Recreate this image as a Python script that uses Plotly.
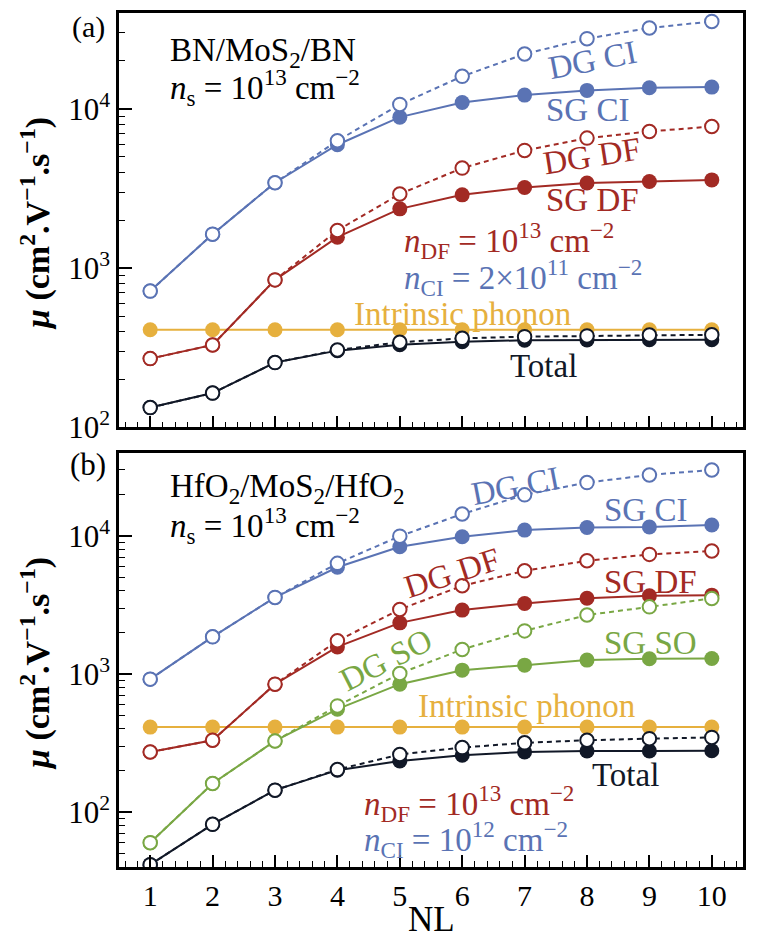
import plotly.graph_objects as go

# ---------------- data ----------------
NL = [1, 2, 3, 4, 5, 6, 7, 8, 9, 10]

# panel (a): BN/MoS2/BN
a_dg_ci = [717, 1633, 3435, 6300, 10660, 16000, 22100, 27600, 32200, 35400]
a_sg_ci = [717, 1633, 3435, 5950, 8870, 10960, 12200, 13060, 13580, 13700]
a_dg_df = [270, 329, 843, 1722, 2920, 4245, 5480, 6550, 7210, 7750]
a_sg_df = [270, 329, 843, 1563, 2355, 2884, 3206, 3420, 3500, 3580]
a_phonon = [410, 410, 410, 410, 410, 410, 410, 410, 410, 410]
a_sg_tot = [133, 164, 255, 303, 330, 345, 352, 354, 355, 355]
a_dg_tot = [133, 164, 255, 306, 342, 362, 371, 375, 380, 381]

# panel (b): HfO2/MoS2/HfO2
b_dg_ci = [917, 1857, 3580, 6320, 9950, 14400, 19800, 24300, 27600, 30000]
b_sg_ci = [917, 1857, 3580, 5920, 8340, 9840, 11000, 11500, 11600, 11980]
b_dg_df = [272, 331, 843, 1738, 2930, 4350, 5580, 6600, 7340, 7760]
b_sg_df = [272, 331, 843, 1570, 2344, 2900, 3240, 3530, 3680, 3720]
b_dg_so = [60, 161, 327, 587, 1008, 1504, 2050, 2670, 3060, 3520]
b_sg_so = [60, 161, 327, 556, 843, 1065, 1158, 1260, 1287, 1294]
b_phonon = [412, 412, 412, 412, 412, 412, 412, 412, 412, 412]
b_sg_tot = [41.6, 81.5, 144, 201, 234, 258, 272, 277, 277, 278]
b_dg_tot = [41.6, 81.5, 144, 203, 261, 293, 317, 331, 340, 347]

y_major = [100, 1000, 10000]
y_major_text = ["10<sup>2</sup>", "10<sup>3</sup>", "10<sup>4</sup>"]
y_minor = [m * d for d in (10, 100, 1000, 10000) for m in range(2, 10)]
x_minor = [i + f for i in range(0, 11) for f in (0.2, 0.4, 0.6, 0.8)]

BLUE = "#5a73b4"
RED = "#a22a24"
YEL = "#e6b03e"
GRN = "#79a744"
BLK = "#111827"
FONT = "Liberation Serif"

fig = go.Figure()


def sg(x, y, color, xa, ya):
    fig.add_trace(go.Scatter(x=x, y=y, mode="lines+markers", xaxis=xa, yaxis=ya,
                             line=dict(color=color, width=2),
                             marker=dict(symbol="circle", size=15, color=color,
                                         line=dict(width=0)),
                             showlegend=False, hoverinfo="skip"))


def dg(x, y, color, xa, ya):
    fig.add_trace(go.Scatter(x=x, y=y, mode="lines+markers", xaxis=xa, yaxis=ya,
                             line=dict(color=color, width=2, dash="5px,4px"),
                             marker=dict(symbol="circle", size=13.5, color="white",
                                         line=dict(width=2, color=color)),
                             showlegend=False, hoverinfo="skip"))


# panel (a)
sg(NL, a_phonon, YEL, "x", "y")
sg(NL, a_sg_ci, BLUE, "x", "y")
dg(NL, a_dg_ci, BLUE, "x", "y")
sg(NL, a_sg_df, RED, "x", "y")
dg(NL, a_dg_df, RED, "x", "y")
sg(NL, a_sg_tot, BLK, "x", "y")
dg(NL, a_dg_tot, BLK, "x", "y")

# panel (b)
sg(NL, b_phonon, YEL, "x2", "y2")
sg(NL, b_sg_ci, BLUE, "x2", "y2")
dg(NL, b_dg_ci, BLUE, "x2", "y2")
sg(NL, b_sg_df, RED, "x2", "y2")
dg(NL, b_dg_df, RED, "x2", "y2")
sg(NL, b_sg_so, GRN, "x2", "y2")
dg(NL, b_dg_so, GRN, "x2", "y2")
sg(NL, b_sg_tot, BLK, "x2", "y2")
dg(NL, b_dg_tot, BLK, "x2", "y2")

# layout geometry: the page body has an 8px margin, so the figure is
# 759x934 and placed at (8, 8) of the 767x942 window
OFF = 8
W, H = 767 - OFF, 942 - OFF
ML, MR, MT, MB = 111, 24, 5, 75
PW = W - ML - MR
PH = H - MT - MB


def px(xp):
    return (xp - OFF - ML) / PW


def py(yp):
    return (H + OFF - MB - yp) / PH


xcommon = dict(range=[0.5, 10.5], tickmode="array", tickvals=NL,
               ticks="inside", ticklen=12, tickwidth=1.6, tickcolor="black",
               showline=True, linewidth=2.5, linecolor="black", mirror=True,
               showgrid=False, zeroline=False, automargin=False,
               minor=dict(tickvals=x_minor, ticks="inside", ticklen=6,
                          tickwidth=1.4, tickcolor="black", showgrid=False),
               tickfont=dict(family=FONT, size=30, color="black"))
ycommon = dict(type="log", tickmode="array", tickvals=y_major, ticktext=y_major_text,
               ticks="inside", ticklen=13, tickwidth=1.6, tickcolor="black",
               showline=True, linewidth=2.5, linecolor="black", mirror=True,
               showgrid=False, zeroline=False, automargin=False,
               minor=dict(tickvals=y_minor, ticks="inside", ticklen=6,
                          tickwidth=1.4, tickcolor="black", showgrid=False),
               tickfont=dict(family=FONT, size=31, color="black"))

fig.update_layout(
    width=W, height=H,
    margin=dict(l=ML, r=MR, t=MT, b=MB, autoexpand=False),
    plot_bgcolor="white", paper_bgcolor="white",
    font=dict(family=FONT, size=28, color="black"),
    xaxis=dict(**xcommon, anchor="y", showticklabels=False),
    yaxis=dict(**ycommon, domain=[py(427.3), 1], range=[2, 4.602]),
    xaxis2=dict(**xcommon, anchor="y2", showticklabels=True),
    yaxis2=dict(**ycommon, domain=[0, py(452.7)], range=[1.602, 4.602]),
)

ann = []


def A(text, x, y, color="black", size=33, xanchor="center", angle=0):
    ann.append(dict(text=text, x=px(x), y=py(y), xref="paper", yref="paper",
                    xanchor=xanchor, yanchor="middle", showarrow=False,
                    textangle=angle,
                    font=dict(family=FONT, size=size, color=color)))


# axis titles
ylab = "<b><i>μ</i> (cm<sup>2</sup>.V<sup>−1</sup>.s<sup>−1</sup>)</b>"
A(ylab, 35, 224, size=34, angle=-90)
A(ylab, 35, 664, size=34, angle=-90)
A("NL", 431, 919, size=35)

# panel (a) texts
A("(a)", 88, 27, size=30)
A("BN/MoS<sub>2</sub>/BN", 168, 52, xanchor="left")
A("<i>n</i><sub>s</sub> = 10<sup>13</sup> cm<sup>−2</sup>", 168, 88, xanchor="left")
A("DG CI", 592, 60, BLUE, angle=-11)
A("SG CI", 587, 110, BLUE)
A("DG DF", 592, 156, RED, angle=-9)
A("SG DF", 592, 200, RED)
A("<i>n</i><sub>DF</sub> = 10<sup>13</sup> cm<sup>−2</sup>", 402, 241, RED, xanchor="left")
A("<i>n</i><sub>CI</sub> = 2×10<sup>11</sup> cm<sup>−2</sup>", 402, 277, BLUE, xanchor="left")
A("Intrinsic phonon", 462, 314, YEL)
A("Total", 543, 366, BLK)

# panel (b) texts
A("(b)", 88, 465, size=31)
A("HfO<sub>2</sub>/MoS<sub>2</sub>/HfO<sub>2</sub>", 168, 489, xanchor="left")
A("<i>n</i><sub>s</sub> = 10<sup>13</sup> cm<sup>−2</sup>", 168, 525, xanchor="left")
A("DG CI", 515, 486, BLUE, angle=-11)
A("SG CI", 645, 510, BLUE)
A("DG DF", 452, 573, RED, angle=-18)
A("SG DF", 650, 582, RED)
A("DG SO", 386, 660, GRN, angle=-27)
A("SG SO", 650, 643, GRN)
A("Intrinsic phonon", 526, 706, YEL)
A("Total", 625, 775, BLK)
A("<i>n</i><sub>DF</sub> = 10<sup>13</sup> cm<sup>−2</sup>", 362, 803, RED, xanchor="left")
A("<i>n</i><sub>CI</sub> = 10<sup>12</sup> cm<sup>−2</sup>", 362, 839, BLUE, xanchor="left")

fig.update_layout(annotations=ann)

fig.write_html("out.html")
